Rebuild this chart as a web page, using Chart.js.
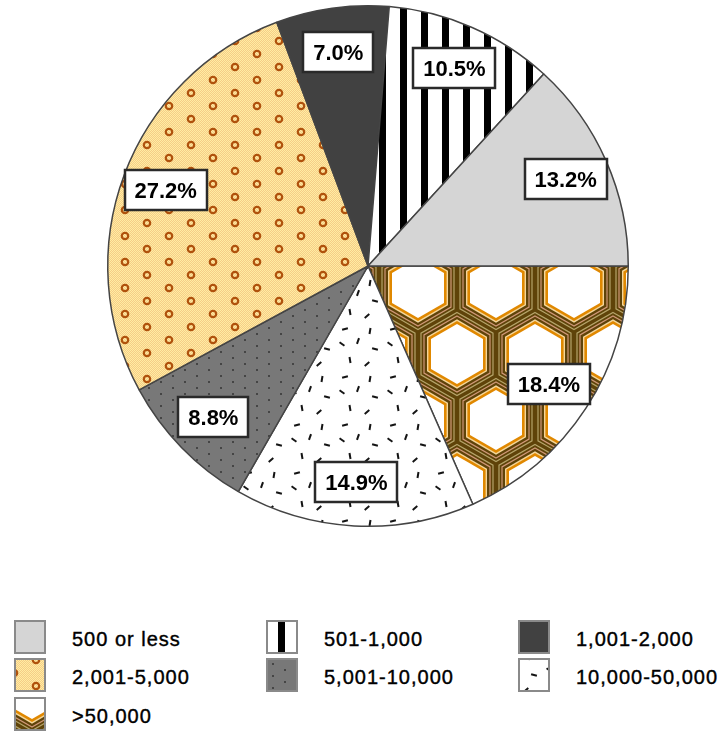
<!DOCTYPE html>
<html>
<head>
<meta charset="utf-8">
<script src="https://cdn.jsdelivr.net/npm/chart.js@4.4.1/dist/chart.umd.min.js"></script>
<style>
  body { margin: 0; background: #fff; width: 722px; height: 731px; position: relative; overflow: hidden;
         font-family: "Liberation Sans", Arial, sans-serif; }
  #pie { position: absolute; left: 0; top: 0; }
  .swatch { position: absolute; box-sizing: content-box; border: 2px solid #8a8a8a; }
  .label { position: absolute; font-size: 20px; line-height: 20px; color: #000; white-space: nowrap;
           letter-spacing: 1px; -webkit-text-stroke: 0.4px #000; }
</style>
</head>
<body>
<canvas id="pie" width="722" height="540"></canvas>
<div id="legend"></div>
<script>
// population size classes and their share of the total (%)
const categories = ['500 or less', '501-1,000', '1,001-2,000', '2,001-5,000', '5,001-10,000', '10,000-50,000', '>50,000'];
const shares = [13.2, 10.5, 7.0, 27.2, 8.8, 14.9, 18.4];

// ---- fill patterns ----
function tile(w, h, paint) {
  const c = document.createElement('canvas');
  c.width = w; c.height = h;
  paint(c.getContext('2d'), w, h);
  return c.getContext('2d').createPattern(c, 'repeat');
}

const stripes = tile(21, 4, (c, w, h) => {
  c.fillStyle = '#fff'; c.fillRect(0, 0, w, h);
  c.fillStyle = '#000'; c.fillRect(1, 0, 7, h);
});

const rings = tile(44, 26, (c, w, h) => {
  const img = c.createImageData(w, h);
  for (let y = 0; y < h; y++) for (let x = 0; x < w; x++) {
    const i = (y * w + x) * 4, odd = (x + y) % 2;
    img.data[i] = odd ? 246 : 255;
    img.data[i + 1] = odd ? 204 : 238;
    img.data[i + 2] = odd ? 136 : 162;
    img.data[i + 3] = 255;
  }
  c.putImageData(img, 0, 0);
  c.strokeStyle = '#b0520c'; c.lineWidth = 2.2;
  [[37, 2], [15, 15]].forEach(([px, py]) => {
    for (const dx of [-w, 0, w]) for (const dy of [-h, 0, h]) {
      c.beginPath(); c.arc(px + dx, py + dy, 3.2, 0, Math.PI * 2); c.stroke();
    }
  });
});

const dots = tile(24, 12, (c, w, h) => {
  c.fillStyle = '#787878'; c.fillRect(0, 0, w, h);
  c.fillStyle = '#454545';
  c.fillRect(4, 3, 2, 2); c.fillRect(16, 9, 2, 2);
});

const confetti = tile(48, 48, (c, w, h) => {
  c.fillStyle = '#fff'; c.fillRect(0, 0, w, h);
  c.strokeStyle = '#141414'; c.lineWidth = 2;
  [[6, 8, 35], [22, 5, -70], [39, 13, 15], [14, 24, 80], [31, 28, -40], [9, 41, -15], [34, 43, 100]]
    .forEach(([x, y, a]) => {
      const r = a * Math.PI / 180, dx = Math.cos(r) * 3, dy = Math.sin(r) * 3;
      c.beginPath(); c.moveTo(x - dx, y - dy); c.lineTo(x + dx, y + dy); c.stroke();
    });
});

function hexPath(c, cx, cy, apothem) {
  const R = apothem * 2 / Math.sqrt(3);
  c.beginPath();
  for (let k = 0; k < 6; k++) {
    const a = -Math.PI / 2 + k * Math.PI / 3;
    c.lineTo(cx + R * Math.cos(a), cy + R * Math.sin(a));
  }
  c.closePath();
}

const honeycomb = tile(78, 132, (c, w, h) => {
  const centers = [];
  [[28, 24], [67, 90]].forEach(([x, y]) => {
    for (const dx of [-w, 0, w]) for (const dy of [-h, 0, h]) centers.push([x + dx, y + dy]);
  });
  c.fillStyle = '#5f4309'; c.fillRect(0, 0, w, h);
  const lines = [[36, '#b5a46a'], [33, '#cf9878']];
  lines.forEach(([a, col]) => {
    c.strokeStyle = col; c.lineWidth = 1.2;
    centers.forEach(([x, y]) => { hexPath(c, x, y, a); c.stroke(); });
  });
  [[30, '#f4d69a'], [28.6, '#e08800'], [26, '#ffffff']].forEach(([a, col]) => {
    c.fillStyle = col;
    centers.forEach(([x, y]) => { hexPath(c, x, y, a); c.fill(); });
  });
});

const fills = ['#d5d5d5', stripes, '#414141', rings, dots, confetti, honeycomb];
// where each legend swatch picks up its pattern
const swatchShift = [[0, 0], [9, 0], [0, 0], [5, 11], [0, 0], [-25, 2], [-12, -34]];

// ---- value boxes inside the slices ----
const sliceLabels = {
  id: 'sliceLabels',
  afterDatasetsDraw(chart) {
    const ctx = chart.ctx;
    const meta = chart.getDatasetMeta(0);
    const values = chart.data.datasets[0].data;
    ctx.save();
    ctx.font = 'bold 22px "Liberation Sans", Arial, sans-serif';
    ctx.textAlign = 'center';
    ctx.textBaseline = 'alphabetic';
    meta.data.forEach((arc, i) => {
      const p = arc.getProps(['x', 'y', 'startAngle', 'endAngle', 'outerRadius'], true);
      const mid = (p.startAngle + p.endAngle) / 2;
      const r = p.outerRadius * 0.83;
      const cx = p.x + Math.cos(mid) * r;
      const cy = p.y + Math.sin(mid) * r;
      const text = values[i].toFixed(1) + '%';
      const w = Math.round(ctx.measureText(text).width + 20), h = 40;
      const x0 = Math.round(cx - w / 2), y0 = Math.round(cy - h / 2);
      ctx.fillStyle = '#fff';
      ctx.fillRect(x0, y0, w, h);
      ctx.strokeStyle = '#2a2a2a';
      ctx.lineWidth = 2.5;
      ctx.strokeRect(x0, y0, w, h);
      ctx.fillStyle = '#000';
      ctx.fillText(text, cx, cy + 8);
    });
    ctx.restore();
  }
};

// slices run counter-clockwise from 3 o'clock, so feed them reversed
const order = categories.map((_, i) => categories.length - 1 - i);

new Chart(document.getElementById('pie'), {
  type: 'pie',
  data: {
    labels: order.map(i => categories[i]),
    datasets: [{
      data: order.map(i => shares[i]),
      backgroundColor: order.map(i => fills[i]),
      borderColor: '#444',
      borderWidth: 1.5
    }]
  },
  options: {
    responsive: false,
    animation: false,
    rotation: 90,
    layout: { padding: { left: 107, right: 93, top: 5, bottom: 13 } },
    plugins: { legend: { display: false }, tooltip: { enabled: false } }
  },
  plugins: [sliceLabels]
});

// ---- legend, three columns ----
const legend = document.getElementById('legend');
const colX = [14, 266, 518], rowY = [620, 658, 697];
categories.forEach((name, i) => {
  const x = colX[i % 3], y = rowY[Math.floor(i / 3)];
  const sw = document.createElement('canvas');
  sw.width = 28; sw.height = 30;
  sw.className = 'swatch';
  sw.style.left = x + 'px'; sw.style.top = y + 'px';
  const c = sw.getContext('2d');
  const [dx, dy] = swatchShift[i];
  c.translate(dx, dy);
  c.fillStyle = fills[i];
  c.fillRect(-dx, -dy, 28, 30);
  legend.appendChild(sw);

  const lab = document.createElement('div');
  lab.className = 'label';
  lab.textContent = name;
  lab.style.left = (x + 58) + 'px';
  lab.style.top = (y + 9) + 'px';
  legend.appendChild(lab);
});
</script>
</body>
</html>
